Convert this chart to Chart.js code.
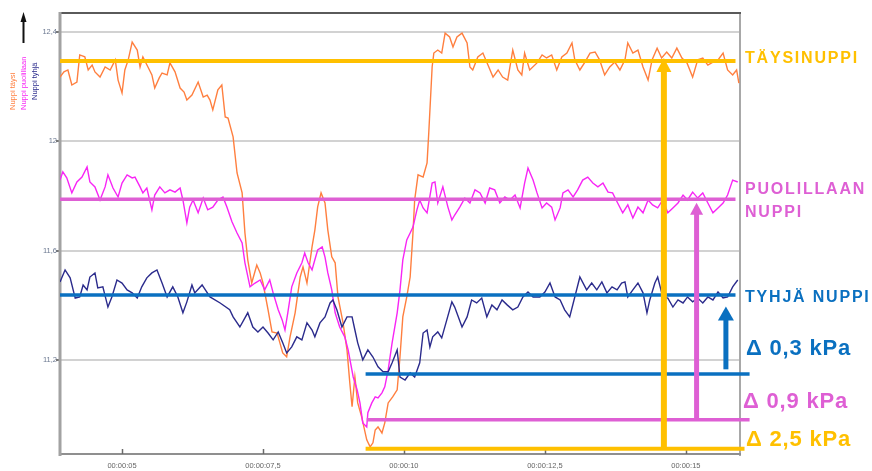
<!DOCTYPE html>
<html>
<head>
<meta charset="utf-8">
<script src="https://cdn.jsdelivr.net/npm/chart.js@4.4.1/dist/chart.umd.min.js"></script>
<style>
  html, body { margin: 0; padding: 0; background: #fff; }
  #wrap { width: 872px; height: 471px; position: relative; }
</style>
</head>
<body>
<div id="wrap"><canvas id="c" width="872" height="471"></canvas></div>
<script>
// Pressure traces (kPa) against time (s) for three tank fill levels
const taysiTime = [3.90,3.97,4.04,4.11,4.20,4.25,4.34,4.40,4.47,4.52,4.61,4.70,4.79,4.88,4.93,5.00,5.05,5.11,5.18,5.27,5.32,5.37,5.46,5.53,5.58,5.66,5.71,5.80,5.85,5.94,6.03,6.10,6.15,6.24,6.35,6.44,6.51,6.56,6.61,6.70,6.77,6.83,6.88,6.97,7.04,7.13,7.18,7.23,7.30,7.39,7.45,7.50,7.59,7.66,7.75,7.80,7.85,7.92,7.98,8.07,8.16,8.21,8.28,8.37,8.42,8.47,8.53,8.60,8.65,8.72,8.78,8.83,8.92,8.99,9.04,9.08,9.13,9.18,9.25,9.34,9.40,9.45,9.49,9.54,9.61,9.66,9.72,9.80,9.88,9.93,9.98,10.05,10.11,10.16,10.19,10.25,10.34,10.41,10.44,10.50,10.53,10.60,10.67,10.73,10.81,10.87,10.94,11.03,11.12,11.17,11.22,11.31,11.40,11.49,11.58,11.67,11.75,11.84,11.93,12.02,12.09,12.14,12.23,12.36,12.45,12.53,12.62,12.71,12.80,12.89,12.98,13.03,13.12,13.21,13.30,13.39,13.47,13.56,13.65,13.74,13.83,13.92,13.97,14.06,14.15,14.24,14.33,14.40,14.49,14.57,14.66,14.75,14.84,14.93,15.02,15.12,15.21,15.30,15.39,15.48,15.57,15.66,15.74,15.83,15.90,15.94];
const taysiKpa = [12.235,12.254,12.261,12.206,12.217,12.316,12.309,12.261,12.279,12.254,12.235,12.272,12.261,12.298,12.224,12.177,12.261,12.298,12.363,12.334,12.272,12.309,12.272,12.243,12.195,12.232,12.250,12.243,12.287,12.254,12.195,12.180,12.151,12.169,12.217,12.162,12.169,12.151,12.115,12.188,12.206,12.089,12.085,12.016,11.884,11.811,11.664,11.566,11.481,11.547,11.518,11.481,11.383,11.302,11.298,11.262,11.225,11.211,11.284,11.372,11.503,11.540,11.481,11.613,11.675,11.760,11.811,11.774,11.675,11.577,11.555,11.430,11.335,11.236,11.115,11.028,11.137,11.042,10.991,10.907,10.881,10.896,10.943,10.954,10.932,10.969,11.042,11.064,11.090,11.211,11.357,11.430,11.503,11.664,11.785,11.877,11.869,11.921,12.030,12.272,12.323,12.334,12.323,12.396,12.382,12.345,12.382,12.396,12.360,12.272,12.261,12.309,12.323,12.279,12.235,12.261,12.235,12.224,12.334,12.261,12.243,12.323,12.261,12.287,12.316,12.305,12.316,12.261,12.309,12.323,12.360,12.298,12.261,12.290,12.323,12.327,12.298,12.243,12.272,12.290,12.261,12.298,12.360,12.323,12.334,12.272,12.224,12.298,12.341,12.305,12.327,12.305,12.341,12.305,12.287,12.235,12.298,12.305,12.279,12.290,12.298,12.323,12.261,12.243,12.261,12.213];

const puoliTime = [3.90,3.95,4.02,4.11,4.20,4.29,4.38,4.43,4.52,4.61,4.70,4.75,4.84,4.93,5.00,5.09,5.18,5.23,5.32,5.37,5.44,5.53,5.58,5.67,5.76,5.85,5.94,6.03,6.08,6.15,6.20,6.26,6.35,6.44,6.52,6.61,6.70,6.79,6.86,6.95,7.04,7.13,7.18,7.27,7.36,7.45,7.53,7.62,7.68,7.77,7.84,7.89,7.94,8.01,8.10,8.19,8.24,8.30,8.37,8.42,8.47,8.55,8.60,8.65,8.72,8.78,8.86,8.95,9.01,9.10,9.17,9.22,9.27,9.34,9.36,9.43,9.49,9.54,9.61,9.66,9.72,9.79,9.88,9.93,9.98,10.05,10.11,10.16,10.23,10.28,10.34,10.41,10.50,10.55,10.60,10.69,10.78,10.85,10.90,10.99,11.08,11.17,11.26,11.35,11.44,11.52,11.61,11.70,11.79,11.88,11.97,12.06,12.14,12.20,12.29,12.36,12.45,12.53,12.62,12.68,12.77,12.82,12.91,13.00,13.08,13.17,13.26,13.35,13.44,13.53,13.62,13.70,13.79,13.88,13.97,14.06,14.15,14.24,14.33,14.41,14.50,14.59,14.68,14.77,14.86,14.95,15.03,15.12,15.21,15.30,15.39,15.48,15.57,15.66,15.74,15.83,15.92];
const puoliKpa = [11.858,11.888,11.866,11.811,11.851,11.869,11.906,11.851,11.833,11.785,11.833,11.877,11.829,11.796,11.847,11.877,11.866,11.869,11.833,11.811,11.829,11.749,11.803,11.833,11.811,11.822,11.814,11.829,11.785,11.701,11.759,11.785,11.738,11.792,11.749,11.759,11.785,11.796,11.759,11.705,11.664,11.628,11.555,11.467,11.481,11.492,11.456,11.492,11.445,11.383,11.346,11.309,11.372,11.467,11.518,11.555,11.591,11.555,11.529,11.566,11.602,11.613,11.576,11.518,11.456,11.372,11.320,11.284,11.236,11.137,11.090,11.042,10.969,10.954,11.006,11.042,11.064,11.060,11.079,11.101,11.163,11.262,11.372,11.456,11.566,11.639,11.664,11.686,11.749,11.785,11.756,11.738,11.847,11.851,11.774,11.833,11.759,11.712,11.730,11.759,11.792,11.774,11.822,11.811,11.774,11.829,11.822,11.774,11.796,11.785,11.803,11.756,11.847,11.902,11.858,11.811,11.756,11.774,11.759,11.712,11.756,11.811,11.822,11.796,11.822,11.858,11.869,11.847,11.833,11.847,11.814,11.811,11.774,11.738,11.767,11.719,11.759,11.738,11.785,11.767,11.756,11.785,11.738,11.756,11.774,11.803,11.785,11.814,11.792,11.811,11.774,11.738,11.756,11.774,11.803,11.858,11.851];

const tyhjaTime = [3.90,3.99,4.08,4.17,4.25,4.31,4.38,4.43,4.52,4.57,4.66,4.75,4.82,4.91,5.00,5.09,5.18,5.27,5.35,5.44,5.53,5.62,5.71,5.80,5.90,5.99,6.08,6.15,6.24,6.29,6.42,6.56,6.74,6.91,6.97,7.09,7.23,7.32,7.41,7.50,7.59,7.68,7.77,7.85,7.92,8.01,8.10,8.19,8.28,8.37,8.42,8.51,8.60,8.69,8.74,8.81,8.90,8.99,9.08,9.13,9.18,9.27,9.36,9.45,9.54,9.63,9.72,9.79,9.88,9.93,10.02,10.11,10.19,10.28,10.34,10.41,10.46,10.51,10.60,10.67,10.76,10.85,10.90,11.03,11.12,11.20,11.29,11.38,11.47,11.56,11.65,11.74,11.83,11.93,12.02,12.11,12.20,12.29,12.41,12.50,12.59,12.68,12.77,12.85,12.94,13.03,13.12,13.24,13.33,13.42,13.51,13.60,13.69,13.78,13.86,13.92,13.97,14.06,14.15,14.24,14.31,14.36,14.45,14.50,14.59,14.68,14.77,14.86,14.95,15.03,15.12,15.21,15.30,15.39,15.48,15.57,15.66,15.74,15.83,15.92];
const tyhjaKpa = [11.485,11.529,11.500,11.426,11.430,11.474,11.456,11.503,11.518,11.463,11.467,11.393,11.430,11.492,11.481,11.456,11.445,11.426,11.467,11.500,11.518,11.529,11.481,11.430,11.467,11.430,11.372,11.412,11.474,11.445,11.474,11.430,11.408,11.383,11.357,11.320,11.372,11.320,11.302,11.320,11.298,11.273,11.302,11.262,11.225,11.247,11.284,11.273,11.335,11.309,11.284,11.335,11.357,11.408,11.419,11.383,11.320,11.357,11.357,11.309,11.262,11.200,11.236,11.210,11.174,11.156,11.156,11.189,11.236,11.137,11.126,11.152,11.137,11.189,11.298,11.309,11.247,11.284,11.302,11.280,11.346,11.412,11.393,11.320,11.357,11.419,11.408,11.426,11.357,11.401,11.383,11.419,11.401,11.383,11.393,11.430,11.448,11.430,11.430,11.448,11.481,11.430,11.419,11.383,11.357,11.430,11.503,11.456,11.481,11.456,11.485,11.445,11.467,11.456,11.481,11.485,11.430,11.456,11.481,11.445,11.372,11.419,11.481,11.503,11.430,11.426,11.393,11.419,11.408,11.430,11.412,11.426,11.408,11.430,11.419,11.448,11.426,11.430,11.467,11.492];

// Settled levels (top) and dip minima (bottom), order: täysi, puolillaan, tyhjä
const levelKpa = [12.294, 11.788, 11.437];
const levelSpan = [3.90, 15.88];
const dipKpa = [10.874, 10.980, 11.148];
const dipStart = [9.32, 9.34, 9.32];
const dipEnd = [16.04, 16.13, 16.13];
const levelNames = [['TÄYSINUPPI'], ['PUOLILLAAN', 'NUPPI'], ['TYHJÄ NUPPI']];
const deltaLabels = ['Δ 2,5 kPa', 'Δ 0,9 kPa', 'Δ 0,3 kPa'];
// Rise arrows: time, start value, tip value
const arrowTime = [14.61, 15.19, 15.71];
const arrowFrom = [10.874, 10.980, 11.165];
const arrowTo = [12.305, 11.775, 11.395];

const legendNames = ['Nuppi täysi', 'Nuppi puolillaan', 'Nuppi tyhjä'];

const yTicks = [11.2, 11.6, 12.0, 12.4];
const xTickSeconds = [5, 7.5, 10, 12.5, 15];
const xTickLabels = ['00:00:05', '00:00:07,5', '00:00:10', '00:00:12,5', '00:00:15'];

const seriesColors = ['#FF7F3F', '#F825F5', '#2B2B8C'];
const levelColors = ['#FFC000', '#DE5FD4', '#0A70C0'];
const FONT = "'Liberation Sans', Arial, sans-serif";

const pts = (ts, vs) => ts.map((t, i) => ({ x: t, y: vs[i] }));

const datasets = [];
// level and dip lines on top of the traces
levelKpa.forEach((v, i) => {
  datasets.push({
    data: [{ x: levelSpan[0], y: v }, { x: levelSpan[1], y: v }],
    borderColor: levelColors[i], borderWidth: i === 0 ? 4 : 3.5,
    pointRadius: 0, showLine: true, order: 0, clip: false
  });
  datasets.push({
    data: [{ x: dipStart[i], y: dipKpa[i] }, { x: dipEnd[i], y: dipKpa[i] }],
    borderColor: levelColors[i], borderWidth: i === 0 ? 4 : 3.5,
    pointRadius: 0, showLine: true, order: 0, clip: false
  });
});
[[tyhjaTime, tyhjaKpa], [puoliTime, puoliKpa], [taysiTime, taysiKpa]].forEach((s, k) => {
  const ci = 2 - k;
  datasets.push({
    data: pts(s[0], s[1]), borderColor: seriesColors[ci], borderWidth: 1.4,
    pointRadius: 0, showLine: true, tension: 0, order: 1
  });
});

function drawArrow(ctx, x, y0, y1, w, hw, hh, color) {
  ctx.strokeStyle = color; ctx.fillStyle = color; ctx.lineWidth = w; ctx.lineCap = 'butt';
  ctx.beginPath(); ctx.moveTo(x, y0); ctx.lineTo(x, y1 + hh - 1); ctx.stroke();
  ctx.beginPath(); ctx.moveTo(x, y1); ctx.lineTo(x - hw / 2, y1 + hh); ctx.lineTo(x + hw / 2, y1 + hh);
  ctx.closePath(); ctx.fill();
}

const decor = {
  id: 'decor',
  beforeDatasetsDraw(chart) {
    const { ctx, chartArea: a, scales: { x } } = chart;
    ctx.save();
    ctx.lineWidth = 2; ctx.strokeStyle = '#a8a8a8';
    ctx.beginPath(); ctx.moveTo(a.right, a.top); ctx.lineTo(a.right, a.bottom + 2); ctx.stroke();
    ctx.strokeStyle = '#8f8f8f';
    ctx.beginPath(); ctx.moveTo(a.left, a.bottom); ctx.lineTo(a.right + 1, a.bottom); ctx.stroke();
    ctx.strokeStyle = '#5a5a5a';
    ctx.beginPath(); ctx.moveTo(a.left - 1, a.top - 1); ctx.lineTo(a.right + 1, a.top - 1); ctx.stroke();
    ctx.lineWidth = 3; ctx.strokeStyle = '#a2a2a2';
    ctx.beginPath(); ctx.moveTo(a.left, a.top - 2); ctx.lineTo(a.left, a.bottom + 2); ctx.stroke();
    ctx.lineWidth = 1.5; ctx.strokeStyle = '#6a6a6a';
    xTickSeconds.forEach(v => {
      const px = Math.round(x.getPixelForValue(v)) + 0.5;
      ctx.beginPath(); ctx.moveTo(px, a.bottom); ctx.lineTo(px, a.bottom - 5); ctx.stroke();
    });
    ctx.restore();
  },
  afterDatasetsDraw(chart) {
    const { ctx, chartArea: a, scales: { x, y } } = chart;
    ctx.save();
    const heads = [[6, 15, 14], [5, 13, 12], [5, 16, 14]];
    arrowTime.forEach((t, i) => {
      drawArrow(ctx, x.getPixelForValue(t), y.getPixelForValue(arrowFrom[i]), y.getPixelForValue(arrowTo[i]),
        heads[i][0], heads[i][1], heads[i][2], levelColors[i]);
    });
    // level names
    ctx.textBaseline = 'middle'; ctx.textAlign = 'left';
    ctx.font = 'bold 16px ' + FONT;
    if ('letterSpacing' in ctx) ctx.letterSpacing = '1.8px';
    const nameX = a.right + 5;
    const nameOffsets = [[-2.5], [-10, 13], [3]];
    levelNames.forEach((lines, i) => {
      ctx.fillStyle = levelColors[i];
      const py = y.getPixelForValue(levelKpa[i]);
      lines.forEach((ln, j) => ctx.fillText(ln, nameX, py + nameOffsets[i][j]));
    });
    // delta labels
    ctx.font = 'bold 22px ' + FONT;
    if ('letterSpacing' in ctx) ctx.letterSpacing = '0.8px';
    const deltaOffsets = [-9, -18, -25];
    const deltaX = [6, 3, 6];
    deltaLabels.forEach((txt, i) => {
      ctx.fillStyle = levelColors[i];
      ctx.fillText(txt, a.right + deltaX[i], y.getPixelForValue(dipKpa[i]) + deltaOffsets[i]);
    });
    ctx.restore();
  },
  afterDraw(chart) {
    const { ctx } = chart;
    ctx.save();
    // upward arrow above the rotated legend
    drawArrow(ctx, 23.5, 43, 12, 2, 6, 10, '#111');
    ctx.font = '7.5px ' + FONT;
    ctx.textBaseline = 'middle'; ctx.textAlign = 'left';
    const colX = [13, 24, 35];
    const colY = [110, 110, 100];
    legendNames.forEach((n, i) => {
      ctx.save();
      ctx.translate(colX[i], colY[i]);
      ctx.rotate(-Math.PI / 2);
      ctx.fillStyle = seriesColors[i];
      ctx.fillText(n, 0, 0);
      ctx.restore();
    });
    ctx.restore();
  }
};

new Chart(document.getElementById('c'), {
  type: 'scatter',
  data: { datasets },
  options: {
    responsive: false,
    animation: false,
    devicePixelRatio: 1,
    layout: { padding: { left: 0, right: 132, top: 14, bottom: 0 } },
    plugins: { legend: { display: false }, tooltip: { enabled: false } },
    elements: { line: { borderCapStyle: 'butt' } },
    scales: {
      x: {
        type: 'linear', min: 3.9, max: 15.96,
        afterBuildTicks: s => { s.ticks = xTickSeconds.map(v => ({ value: v })); },
        afterFit: s => { s.height = 17; },
        grid: { display: false },
        border: { display: false },
        ticks: {
          autoSkip: false, maxRotation: 0, padding: -1,
          callback: v => xTickLabels[xTickSeconds.indexOf(v)],
          font: { size: 7.5, family: FONT }, color: '#666'
        }
      },
      y: {
        min: 10.855, max: 12.466,
        afterBuildTicks: s => { s.ticks = yTicks.map(v => ({ value: v })); },
        afterFit: s => { s.width = 60; },
        grid: { color: '#d2d2d2', lineWidth: 2, tickLength: 4, tickColor: '#777' },
        border: { display: false },
        ticks: {
          padding: -1,
          callback: v => String(Math.round(v * 10) / 10).replace('.', ','),
          font: { size: 7.5, family: FONT }, color: '#6b7890'
        }
      }
    }
  },
  plugins: [decor]
});
</script>
</body>
</html>
